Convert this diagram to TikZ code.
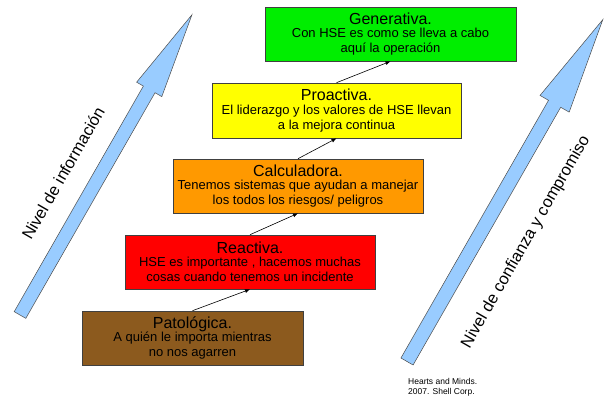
\documentclass[tikz,border=0pt]{standalone}
\usepackage{fontspec}
\setmainfont{Liberation Sans}
\usetikzlibrary{arrows.meta}
\definecolor{genc}{RGB}{0,238,0}
\definecolor{proc}{RGB}{255,255,0}
\definecolor{calcc}{RGB}{255,153,0}
\definecolor{reacc}{RGB}{255,0,0}
\definecolor{patoc}{RGB}{140,90,30}
\definecolor{arrowblue}{RGB}{153,204,255}
\newcommand\boxtitle[1]{{\fontsize{16}{18}\selectfont #1}\\[-1.5pt]}
\begin{document}
\begin{tikzpicture}[x=1pt,y=-1pt,
  levelbox/.style={draw=black!75, line width=0.6pt, minimum height=54pt, inner sep=1pt,
    align=center, font=\fontsize{13}{15}\selectfont},
  stepline/.style={draw=black, line width=0.6pt, -{Latex[length=5pt,width=4pt]}},
  bigarrow/.style={fill=arrowblue, draw=black!70, line width=0.5pt, line join=miter},
  sidelabel/.style={rotate=60.2, font=\fontsize{16.5}{18}\selectfont, inner sep=0pt}]
\useasboundingbox (0,0) rectangle (609,406);

% big arrows
\begin{scope}[shift={(20,315)}, rotate=60.2]
  \draw[bigarrow] (0,-6.7) -- (260,-6.7) -- (260,-14.5) -- (346,0) -- (260,14.5) -- (260,6.7) -- (0,6.7) -- cycle;
\end{scope}
\begin{scope}[shift={(407,361.5)}, rotate=60.2]
  \draw[bigarrow] (0,-7) -- (297,-7) -- (297,-16.8) -- (394,0) -- (297,16.8) -- (297,7) -- (0,7) -- cycle;
\end{scope}

\node[sidelabel] (info) at (63,173) {Nivel de información};
\node[sidelabel] (conf) at (526,242) {Nivel de confianza y compromiso};

% level boxes
\node[levelbox, fill=genc, minimum width=251pt] (gen) at (390.5,34)
  {\boxtitle{Generativa.}Con HSE es como se lleva a cabo\\aquí la operación};
\node[levelbox, fill=proc, minimum width=249pt, minimum height=55pt] (pro) at (336.5,110.5)
  {\boxtitle{Proactiva.}El liderazgo y los valores de HSE llevan\\a la mejora continua};
\node[levelbox, fill=calcc, minimum width=250pt] (calc) at (298,186)
  {\boxtitle{Calculadora.}Tenemos sistemas que ayudan a manejar\\los todos los riesgos/ peligros};
\node[levelbox, fill=reacc, minimum width=250pt] (reac) at (250,262)
  {\boxtitle{Reactiva.}HSE es importante , hacemos muchas\\cosas cuando tenemos un incidente};
\node[levelbox, fill=patoc, minimum width=221pt] (pato) at (192.5,338)
  {\boxtitle{Patológica.}A quién le importa mientras\\no nos agarren};

% connectors
\draw[stepline] (pato.north) -- (reac.south);
\draw[stepline] (reac.north) -- (calc.south);
\draw[stepline] (calc.north) -- (pro.south);
\draw[stepline] (pro.north) -- (gen.south);

% reference
\node[anchor=north west, align=left, inner sep=0pt, font=\fontsize{8.5}{9.8}\selectfont] (ref) at (408,378.5)
  {Hearts and Minds.\\2007. Shell Corp.};
\end{tikzpicture}
\end{document}
